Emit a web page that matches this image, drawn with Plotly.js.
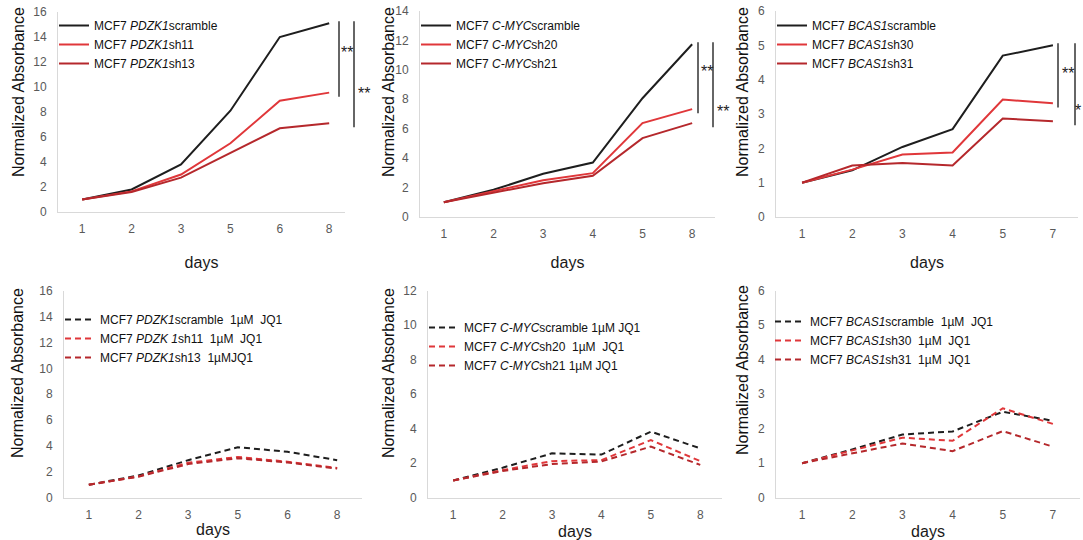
<!DOCTYPE html>
<html><head><meta charset="utf-8">
<script src="https://cdn.plot.ly/plotly-3.0.1.min.js"></script>
<style>html,body{margin:0;padding:0;background:#fff}#chart{width:1083px;height:540px}</style>
</head><body><div id="chart"></div>
<script>
// ---------------- data ----------------
const daysPDZK1 = ["1", "2", "3", "5", "6", "8"];
const pdzk1Scramble = [1.0, 1.8, 3.8, 8.1, 14.0, 15.1];
const pdzk1Sh11     = [1.0, 1.65, 3.0, 5.5, 8.9, 9.55];
const pdzk1Sh13     = [1.0, 1.6, 2.75, 4.7, 6.7, 7.1];

const daysMYC = ["1", "2", "3", "4", "5", "8"];
const mycScramble = [1.0, 1.85, 2.94, 3.7, 8.07, 11.74];
const mycSh20     = [1.0, 1.74, 2.5, 2.98, 6.38, 7.33];
const mycSh21     = [1.0, 1.63, 2.3, 2.8, 5.36, 6.38];

const daysBCAS1 = ["1", "2", "3", "4", "5", "7"];
const bcas1Scramble = [1.0, 1.36, 2.04, 2.56, 4.7, 5.0];
const bcas1Sh30     = [1.0, 1.38, 1.82, 1.88, 3.42, 3.31];
const bcas1Sh31     = [1.0, 1.5, 1.57, 1.5, 2.87, 2.79];

const daysPDZK1JQ1 = ["1", "2", "3", "5", "6", "8"];
const pdzk1JQ1Scramble = [1.0, 1.72, 2.9, 3.9, 3.55, 2.9];
const pdzk1JQ1Sh11     = [1.0, 1.65, 2.7, 3.15, 2.78, 2.3];
const pdzk1JQ1Sh13     = [1.0, 1.62, 2.6, 3.05, 2.72, 2.25];

const daysMYCJQ1 = ["1", "2", "3", "4", "5", "8"];
const mycJQ1Scramble = [1.0, 1.74, 2.57, 2.5, 3.83, 2.86];
const mycJQ1Sh20     = [1.0, 1.6, 2.12, 2.18, 3.34, 2.12];
const mycJQ1Sh21     = [1.0, 1.55, 1.95, 2.1, 2.96, 1.9];

const daysBCAS1JQ1 = ["1", "2", "3", "4", "5", "7"];
const bcas1JQ1Scramble = [1.0, 1.4, 1.83, 1.92, 2.49, 2.23];
const bcas1JQ1Sh30     = [1.0, 1.38, 1.74, 1.65, 2.59, 2.14];
const bcas1JQ1Sh31     = [1.0, 1.28, 1.57, 1.35, 1.93, 1.48];

const namesPDZK1 = ["MCF7 <i>PDZK1</i>scramble", "MCF7 <i>PDZK1</i>sh11", "MCF7 <i>PDZK1</i>sh13"];
const namesMYC = ["MCF7 <i>C-MYC</i>scramble", "MCF7 <i>C-MYC</i>sh20", "MCF7 <i>C-MYC</i>sh21"];
const namesBCAS1 = ["MCF7 <i>BCAS1</i>scramble", "MCF7 <i>BCAS1</i>sh30", "MCF7 <i>BCAS1</i>sh31"];
const namesPDZK1JQ1 = ["MCF7 <i>PDZK1</i>scramble  1µM  JQ1", "MCF7 <i>PDZK 1</i>sh11  1µM  JQ1", "MCF7 <i>PDZK1</i>sh13  1µMJQ1"];
const namesMYCJQ1 = ["MCF7 <i>C-MYC</i>scramble 1µM JQ1", "MCF7 <i>C-MYC</i>sh20  1µM  JQ1", "MCF7 <i>C-MYC</i>sh21 1µM JQ1"];
const namesBCAS1JQ1 = ["MCF7 <i>BCAS1</i>scramble  1µM  JQ1", "MCF7 <i>BCAS1</i>sh30  1µM  JQ1", "MCF7 <i>BCAS1</i>sh31  1µM  JQ1"];

const yTitle = "Normalized Absorbance";
const xTitle = "days";
const sigLabels = [["**", "**"], ["**", "**"], ["**", "*"]];

// ---------------- layout helpers ----------------
const W = 1083, H = 540;
const px = v => v / W;
const py = v => 1 - v / H;
const colors = ["#1e1e1e", "#e0373a", "#b5282c"];
const FONT = "Liberation Sans, Arial, sans-serif";
const NARROW = "Liberation Sans Narrow, Arial Narrow, Liberation Sans, Arial, sans-serif";

const panels = [
  {cats: daysPDZK1, ys: [pdzk1Scramble, pdzk1Sh11, pdzk1Sh13], names: namesPDZK1, dash: "solid",
   box: [58, 345, 12, 212], xr: [-0.49, 5.32], yr: [0, 16], dt: 2, leg: [54, 11], yt: [18, 92], st: 21,
   sig: {lines: [339, 354], stars: [[347, 48], [364, 88]]}},
  {cats: daysMYC, ys: [mycScramble, mycSh20, mycSh21], names: namesMYC, dash: "solid",
   box: [420, 715, 11, 217], xr: [-0.48, 5.46], yr: [0, 14], dt: 2, leg: [416, 11], yt: [388, 92], st: 16,
   sig: {lines: [698, 713], stars: [[707, 67], [723, 107]]}},
  {cats: daysBCAS1, ys: [bcas1Scramble, bcas1Sh30, bcas1Sh31], names: namesBCAS1, dash: "solid",
   box: [776, 1078, 11, 217], xr: [-0.52, 5.5], yr: [0, 6], dt: 1, leg: [772, 11], yt: [742, 92], st: 16,
   sig: {lines: [1058, 1075], stars: [[1068, 68], [1078, 105]]}},
  {cats: daysPDZK1JQ1, ys: [pdzk1JQ1Scramble, pdzk1JQ1Sh11, pdzk1JQ1Sh13], names: namesPDZK1JQ1, dash: "6px,4px",
   box: [64, 362, 290.7, 497.7], xr: [-0.5, 5.5], yr: [0, 16], dt: 2, leg: [60, 305], yt: [17, 373], st: 2},
  {cats: daysMYCJQ1, ys: [mycJQ1Scramble, mycJQ1Sh20, mycJQ1Sh21], names: namesMYCJQ1, dash: "6px,4px",
   box: [428, 722, 290.7, 497.7], xr: [-0.51, 5.44], yr: [0, 12], dt: 2, leg: [424, 313], yt: [388, 373], st: 4},
  {cats: daysBCAS1JQ1, ys: [bcas1JQ1Scramble, bcas1JQ1Sh30, bcas1JQ1Sh31], names: namesBCAS1JQ1, dash: "6px,4px",
   box: [776, 1080, 290.7, 497.7], xr: [-0.52, 5.54], yr: [0, 6], dt: 1, leg: [770, 307], yt: [742, 370], st: 4}
];

const data = [];
const layout = {
  width: W, height: H, margin: {l: 0, r: 0, t: 0, b: 0},
  paper_bgcolor: "#ffffff", plot_bgcolor: "#ffffff",
  font: {family: FONT, color: "#111"},
  showlegend: true, shapes: [], annotations: []
};

panels.forEach((p, i) => {
  const n = i + 1;
  const sfx = n === 1 ? "" : String(n);
  const legKey = "legend" + sfx;
  p.ys.forEach((y, k) => {
    data.push({
      type: "scatter", mode: "lines", x: p.cats, y: y, name: p.names[k],
      xaxis: "x" + sfx, yaxis: "y" + sfx, legend: legKey,
      line: {color: colors[k], width: 2, dash: p.dash}, hoverinfo: "skip"
    });
  });
  layout["xaxis" + sfx] = {
    type: "category", domain: [px(p.box[0]), px(p.box[1])], range: p.xr, anchor: "y" + sfx,
    showline: true, linecolor: "#d9d9d9", linewidth: 1, showgrid: false, zeroline: false,
    ticks: "", ticklabelstandoff: 6, tickfont: {family: FONT, size: 12, color: "#595959"},
    title: {text: xTitle, font: {family: FONT, size: 16, color: "#1a1a1a"}, standoff: p.st},
    fixedrange: true
  };
  layout["yaxis" + sfx] = {
    domain: [py(p.box[3]), py(p.box[2])], range: p.yr, dtick: p.dt, anchor: "x" + sfx,
    showline: true, linecolor: "#d9d9d9", linewidth: 1, showgrid: false, zeroline: false,
    ticks: "", ticklabelstandoff: 8, tickfont: {family: NARROW, size: 12, color: "#595959"},
    fixedrange: true
  };
  layout[legKey] = {
    x: px(p.leg[0]), xanchor: "left", y: py(p.leg[1]), yanchor: "top",
    bgcolor: "rgba(0,0,0,0)", borderwidth: 0, font: {family: FONT, size: 12, color: "#111"}
  };
  layout.annotations.push({
    text: yTitle, textangle: -90, xref: "paper", yref: "paper",
    x: px(p.yt[0]), y: py(p.yt[1]), xanchor: "center", yanchor: "middle", showarrow: false,
    font: {family: FONT, size: 16, color: "#111"}
  });
  if (p.sig) {
    const last = p.ys[0].length - 1;
    p.sig.lines.forEach((lx, k) => {
      layout.shapes.push({
        type: "line", xref: "paper", yref: "y" + sfx,
        x0: px(lx), x1: px(lx), y0: p.ys[0][last] + 0.01 * (p.yr[1] - p.yr[0]), y1: p.ys[k + 1][last] - 0.02 * (p.yr[1] - p.yr[0]),
        line: {color: "#333", width: 1.5}
      });
      layout.annotations.push({
        text: sigLabels[i][k], xref: "paper", yref: "paper",
        x: px(p.sig.stars[k][0]), y: py(p.sig.stars[k][1] + 5), xanchor: "center", yanchor: "middle",
        showarrow: false, font: {family: FONT, size: 16, color: "#222"}
      });
    });
  }
});

Plotly.newPlot("chart", data, layout, {staticPlot: true, displayModeBar: false});
</script>
</body></html>
